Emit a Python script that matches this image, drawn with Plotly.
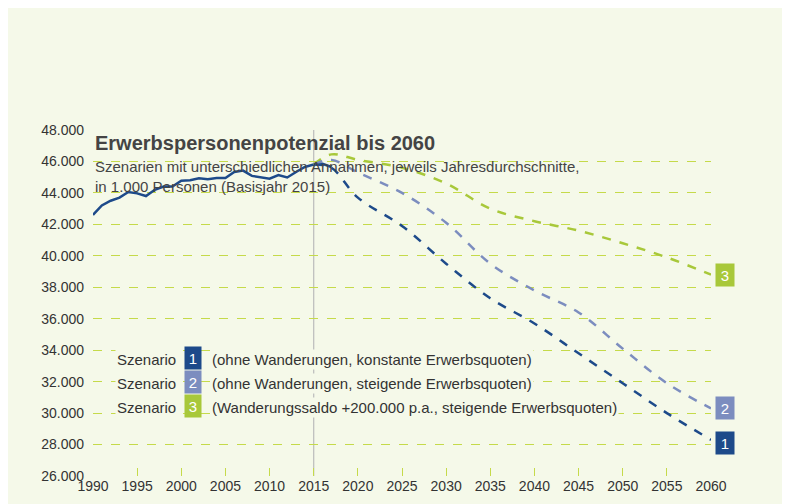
import plotly.graph_objects as go

hist_years = list(range(1990, 2018))
hist_vals = [42600, 43200, 43500, 43700, 44060, 43970, 43800, 44200, 44400, 44400,
             44780, 44800, 44930, 44870, 44950, 44950, 45330, 45420, 45080, 45000,
             44900, 45140, 44980, 45330, 45650, 45800, 45850, 45650]
proj_years = [2015, 2017, 2020, 2025, 2030, 2035, 2040, 2045, 2050, 2055, 2060]
s1 = [45800, 45600, 43700, 41900, 39500, 37300, 35700, 33800, 31900, 30000, 28300]
s2 = [45800, 46100, 45300, 44000, 42100, 39500, 37800, 36400, 34100, 31900, 30300]
s3 = [45800, 46450, 46100, 45600, 44600, 43000, 42200, 41600, 40800, 39900, 38800]
x_ticks = list(range(1990, 2061, 5))
y_ticks = list(range(26000, 48001, 2000))
legend_texts = ["(ohne Wanderungen, konstante Erwerbsquoten)",
                "(ohne Wanderungen, steigende Erwerbsquoten)",
                "(Wanderungssaldo +200.000 p.a., steigende Erwerbsquoten)"]
colors = ["#1d4a8a", "#7c8dbf", "#a8c83a"]
BG = "#f5f9e9"
FONT = "Liberation Sans Narrow, Arial Narrow, sans-serif"

fig = go.Figure()
fig.add_trace(go.Scatter(x=hist_years, y=hist_vals, mode="lines",
                         line=dict(color=colors[0], width=2.5), showlegend=False))
for s, c in [(s3, colors[2]), (s2, colors[1]), (s1, colors[0])]:
    fig.add_trace(go.Scatter(x=proj_years, y=s, mode="lines", line_shape="spline",
                             line=dict(color=c, width=2.5, dash="dash"), showlegend=False))

fig.add_vline(x=2015, line=dict(color="#bbbbbb", width=1.2), layer="below")

anns = []
for s, c, n in [(s1, colors[0], "1"), (s2, colors[1], "2"), (s3, colors[2], "3")]:
    anns.append(dict(x=2060, y=s[-1], xref="x", yref="y", text=n, showarrow=False,
                     xanchor="left", xshift=4, yshift=-3 if n == "1" else 0,
                     bgcolor=c, font=dict(color="white", size=15, family=FONT),
                     width=16, height=20))
leg_y = [0.305, 0.237, 0.169]
for i in range(3):
    anns.append(dict(x=0.035, y=leg_y[i], xref="paper", yref="paper", text="Szenario",
                     showarrow=False, xanchor="left", font=dict(size=15, color="#333", family=FONT),
                     bgcolor=BG))
    anns.append(dict(x=0.148, y=leg_y[i], xref="paper", yref="paper", text=str(i + 1),
                     showarrow=False, xanchor="left", bgcolor=colors[i], width=14, height=20,
                     font=dict(size=15, color="white", family=FONT)))
    anns.append(dict(x=0.19, y=leg_y[i], xref="paper", yref="paper", text=legend_texts[i],
                     showarrow=False, xanchor="left", font=dict(size=15, color="#333", family=FONT),
                     bgcolor=BG))
anns.append(dict(x=0, y=1.0, xref="paper", yref="paper", xanchor="left", yanchor="top",
                 showarrow=False, text="<b>Erwerbspersonenpotenzial bis 2060</b>",
                 font=dict(size=20, color="#444", family=FONT)))
anns.append(dict(x=0, y=0.925, xref="paper", yref="paper", xanchor="left", yanchor="top",
                 showarrow=False, align="left",
                 text="Szenarien mit unterschiedlichen Annahmen, jeweils Jahresdurchschnitte,<br>in 1.000 Personen (Basisjahr 2015)",
                 font=dict(size=15, color="#444", family=FONT)))

fig.update_layout(
    width=790, height=504, paper_bgcolor=BG, plot_bgcolor=BG,
    margin=dict(l=85, r=87, t=122, b=36), separators=",.",
    font=dict(family=FONT, size=14, color="#333"), annotations=anns,
    xaxis=dict(range=[1990, 2060], tickvals=x_ticks, showgrid=False, zeroline=False,
               ticks="inside", ticklen=8, tickcolor="#c5da4a", tickfont=dict(size=14),
               showline=False),
    yaxis=dict(range=[26000, 48000], tickvals=y_ticks, tickformat=",d",
               gridcolor="#c5da4a", griddash="dash", gridwidth=1, zeroline=False,
               ticks="", tickfont=dict(size=14), ticklabelstandoff=8),
)
fig.write_html("out.html")
